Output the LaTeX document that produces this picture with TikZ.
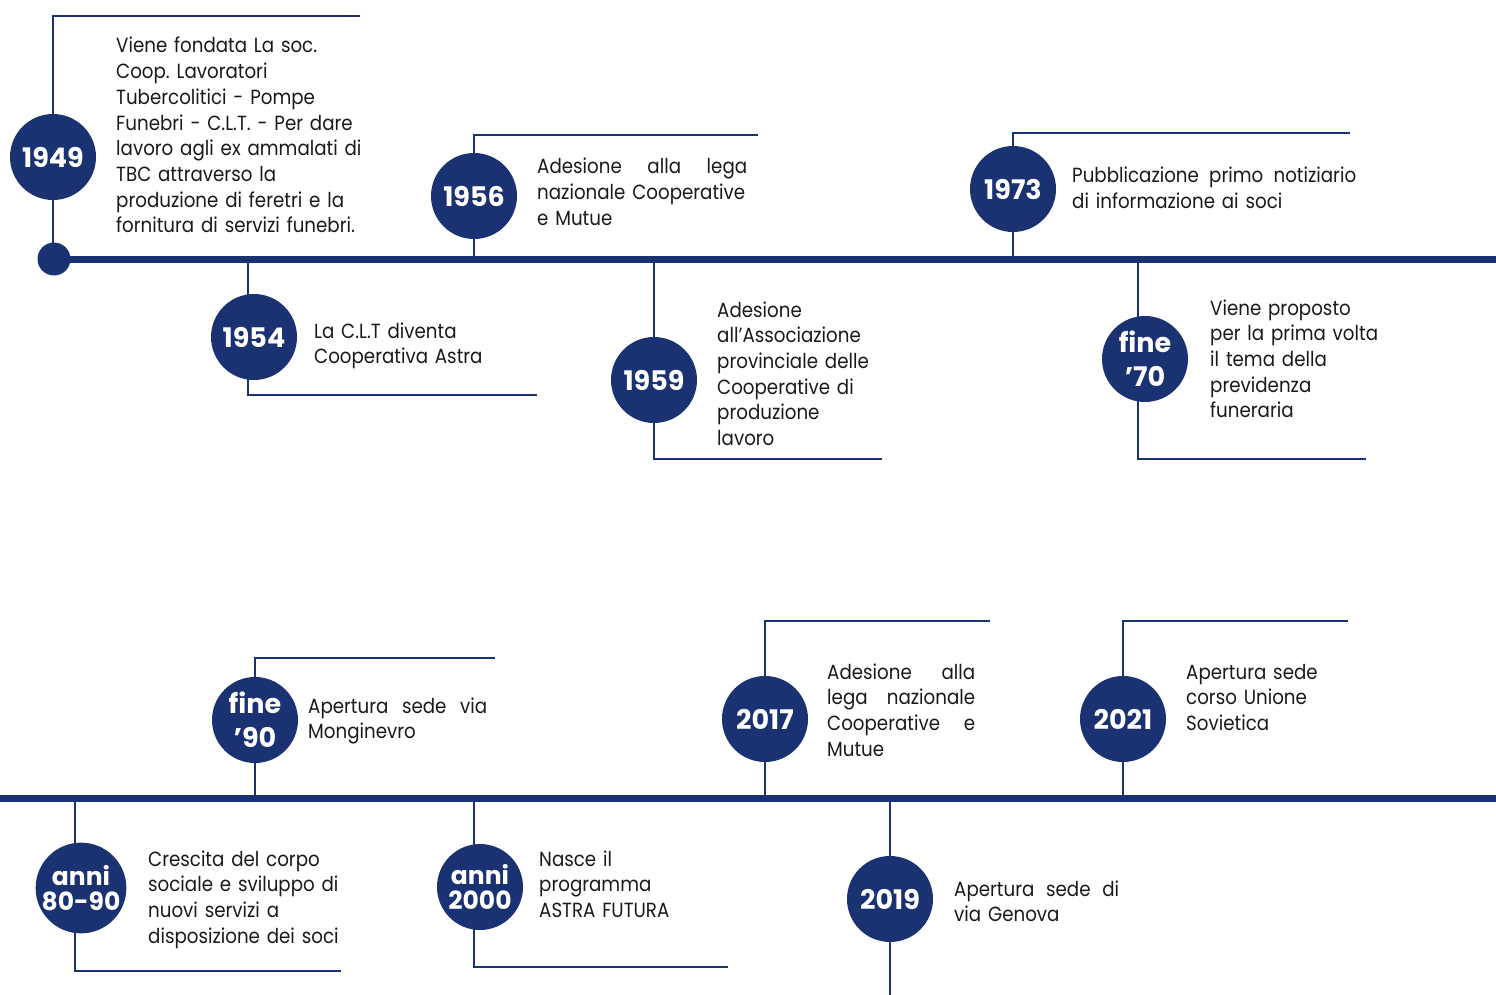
\documentclass[tikz,border=0pt]{standalone}
\usepackage{fontspec}
\setmainfont{Poppins}[FakeStretch=0.89]
\newfontfamily\yearfont{Poppins}
\frenchspacing
\newcommand\spreadline[2]{\leavevmode\hbox to #1{#2}}
\definecolor{navy}{HTML}{1B3272}
\definecolor{textc}{HTML}{1A1A1A}
\tikzset{
  axisline/.style={navy, line width=7pt},
  stem/.style={navy, line width=2.6pt},
  yearbox/.style={circle, fill=navy, minimum size=86pt, inner sep=0pt, text=white,
    font=\yearfont\fontsize{27}{30}\selectfont\bfseries, align=center},
  twoline/.style={font=\yearfont\fontsize{27}{34}\selectfont\bfseries},
  anniline/.style={font=\yearfont\fontsize{25}{25}\selectfont\bfseries},
  desc/.style={anchor=base west, inner sep=0pt, align=left, text width=320pt,
    font=\fontsize{20.5}{25.7}\selectfont, text=textc}
}
\begin{document}
\begin{tikzpicture}[x=1pt,y=-1pt]
\useasboundingbox (0,0) rectangle (1496,995);
% ---------- axes ----------
\coordinate (topstart) at (54,259);
\coordinate (topend) at (1496,259);
\coordinate (botstart) at (0,798);
\coordinate (botend) at (1496,798);
\draw[axisline] (topstart) -- (topend);
\draw[axisline] (botstart) -- (botend);
\node[circle, fill=navy, minimum size=33pt, inner sep=0pt] (startdot) at (topstart) {};

% ---------- stems (top row) ----------
\coordinate (a1) at (53,259); \coordinate (b1) at (53,16); \coordinate (c1) at (360,16);
\draw[stem] (a1) -- (b1) -- (c1);
\coordinate (a2) at (474,259); \coordinate (b2) at (474,135); \coordinate (c2) at (758,135);
\draw[stem] (a2) -- (b2) -- (c2);
\coordinate (a3) at (1013,259); \coordinate (b3) at (1013,133); \coordinate (c3) at (1350,133);
\draw[stem] (a3) -- (b3) -- (c3);
\coordinate (a4) at (248,259); \coordinate (b4) at (248,395); \coordinate (c4) at (537,395);
\draw[stem] (a4) -- (b4) -- (c4);
\coordinate (a5) at (654,259); \coordinate (b5) at (654,459); \coordinate (c5) at (882,459);
\draw[stem] (a5) -- (b5) -- (c5);
\coordinate (a6) at (1138,259); \coordinate (b6) at (1138,459); \coordinate (c6) at (1366,459);
\draw[stem] (a6) -- (b6) -- (c6);
% ---------- stems (bottom row) ----------
\coordinate (a7) at (255,798); \coordinate (b7) at (255,658); \coordinate (c7) at (495,658);
\draw[stem] (a7) -- (b7) -- (c7);
\coordinate (a8) at (765,798); \coordinate (b8) at (765,621); \coordinate (c8) at (990,621);
\draw[stem] (a8) -- (b8) -- (c8);
\coordinate (a9) at (1123,798); \coordinate (b9) at (1123,621); \coordinate (c9) at (1348,621);
\draw[stem] (a9) -- (b9) -- (c9);
\coordinate (a10) at (75,798); \coordinate (b10) at (75,971); \coordinate (c10) at (341,971);
\draw[stem] (a10) -- (b10) -- (c10);
\coordinate (a11) at (474,798); \coordinate (b11) at (474,967); \coordinate (c11) at (728,967);
\draw[stem] (a11) -- (b11) -- (c11);
\coordinate (a12) at (890,798); \coordinate (b12) at (890,995);
\draw[stem] (a12) -- (b12);

% ---------- year circles ----------
\node[yearbox] (y1949) at (53,157) {1949};
\node[yearbox] (y1956) at (474,196) {1956};
\node[yearbox] (y1973) at (1013,189) {1973};
\node[yearbox] (y1954) at (254,337) {1954};
\node[yearbox] (y1959) at (654,380) {1959};
\node[yearbox, twoline] (y70) at (1145,359) {fine\\’70};
\node[yearbox, twoline] (y90) at (255,720) {fine\\’90};
\node[yearbox] (y2017) at (765,719) {2017};
\node[yearbox] (y2021) at (1123,719) {2021};
\node[yearbox, anniline] (y8090) at (81,888) {anni\\80-90};
\node[yearbox, anniline] (y2000) at (480,887) {anni\\2000};
\node[yearbox] (y2019) at (890,899) {2019};

% ---------- descriptions ----------
\node[desc] (t1949) at (116,53) {Viene fondata La soc.\\Coop. Lavoratori\\Tubercolitici - Pompe\\Funebri - C.L.T. - Per dare\\lavoro agli ex ammalati di\\TBC attraverso la\\produzione di feretri e la\\fornitura di servizi funebri.};
\node[desc] (t1956) at (537,174) {\spreadline{210pt}{Adesione\hfill alla\hfill lega}\\nazionale Cooperative\\e Mutue};
\node[desc] (t1973) at (1072,183) {\spreadline{284pt}{Pubblicazione\hfill primo\hfill notiziario}\\di informazione ai soci};
\node[desc] (t1954) at (314,338) {La C.L.T diventa\\Cooperativa Astra};
\node[desc] (t1959) at (717,317) {Adesione\\all’Associazione\\provinciale delle\\Cooperative di\\produzione\\lavoro};
\node[desc] (t70) at (1210,315) {Viene proposto\\per la prima volta\\il tema della\\previdenza\\funeraria};
\node[desc] (t90) at (308,713) {\spreadline{179pt}{Apertura\hfill sede\hfill via}\\Monginevro};
\node[desc] (t2017) at (827,679) {\spreadline{148pt}{Adesione\hfill alla}\\\spreadline{148pt}{lega\hfill nazionale}\\\spreadline{148pt}{Cooperative\hfill e}\\Mutue};
\node[desc] (t2021) at (1186,679) {Apertura sede\\corso Unione\\Sovietica};
\node[desc] (t8090) at (148,866) {Crescita del corpo\\sociale e sviluppo di\\nuovi servizi a\\disposizione dei soci};
\node[desc] (t2000) at (539,866) {Nasce il\\programma\\ASTRA FUTURA};
\node[desc] (t2019) at (954,896) {\spreadline{165pt}{Apertura\hfill sede\hfill di}\\via Genova};
\end{tikzpicture}
\end{document}
